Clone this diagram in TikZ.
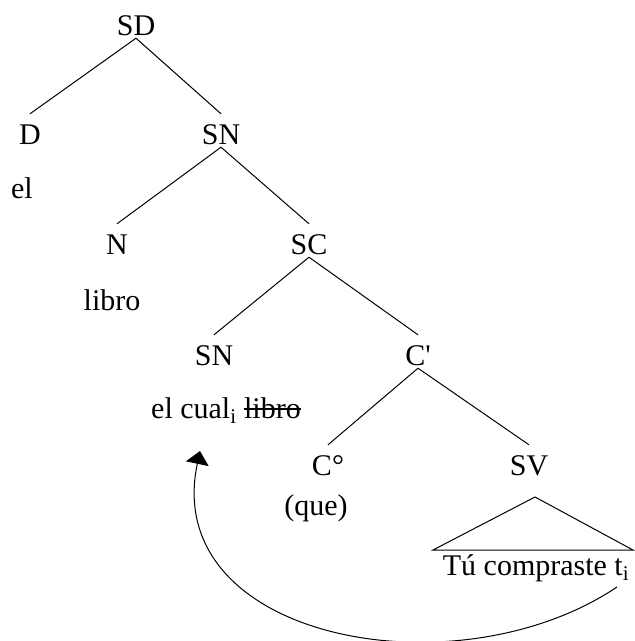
\documentclass[tikz,border=0pt]{standalone}
\usepackage{fontspec}
\setmainfont{Liberation Serif}
\usetikzlibrary{arrows.meta}

\newsavebox{\tachbox}
\newcommand{\tachado}[1]{\sbox{\tachbox}{#1}\rlap{\rule[8.5pt]{\wd\tachbox}{1.2pt}}\usebox{\tachbox}}

\tikzset{
  cat/.style={anchor=base, inner sep=0pt, text height=30pt, text depth=3pt},
  word/.style={anchor=base, inner sep=0pt},
  branch/.style={line width=1pt}
}

\begin{document}
\begin{tikzpicture}[x=1pt,y=1pt,font=\fontsize{30}{36}\selectfont]
        \useasboundingbox (0,0) rectangle (635,-641);
        % categories
        \node[cat] (sd) at (136,-35) {SD};
        \node[cat] (d) at (30,-144) {D};
        \node[cat] (snA) at (221,-144) {SN};
        \node[cat] (n) at (117,-254) {N};
        \node[cat] (sc) at (309,-254) {SC};
        \node[cat] (snB) at (214,-365) {SN};
        \node[cat] (cbar) at (418,-365) {C\textquotesingle};
        \node[cat] (czero) at (328,-475) {C°};
        \node[cat] (sv) at (529,-475) {SV};
        % words
        \node[word] (el) at (22,-198) {el};
        \node[word] (libro) at (112,-310) {libro};
        \node[word] (elcual) at (226,-418) {el cual\textsubscript{i} \tachado{libro}};
        \node[word] (que) at (316,-515) {(que)};
        \node[word] (tu) at (536,-575) {Tú compraste t\textsubscript{i}};
        % branches
        \draw[branch] (sd.south) -- (d.north);
        \draw[branch] (sd.south) -- (snA.north);
        \draw[branch] (snA.south) -- (n.north);
        \draw[branch] (snA.south) -- (sc.north);
        \draw[branch] (sc.south) -- (snB.north);
        \draw[branch] (sc.south) -- (cbar.north);
        \draw[branch] (cbar.south) -- (czero.north);
        \draw[branch] (cbar.south) -- (sv.north);
        % triangle under SV
        \coordinate (apex) at (535,-497);
        \coordinate (bl) at (433,-550);
        \coordinate (br) at (633,-550);
        \draw[branch] (apex) -- (bl) -- (br) -- cycle;
        % movement
        \coordinate (trace) at (617,-587);
        \coordinate (moved) at (200,-451);
        \draw[branch,-{Triangle[width=23pt,length=13pt]}] (trace) .. controls (456,-695) and (160,-640) .. (moved);
    \end{tikzpicture}
\end{document}
